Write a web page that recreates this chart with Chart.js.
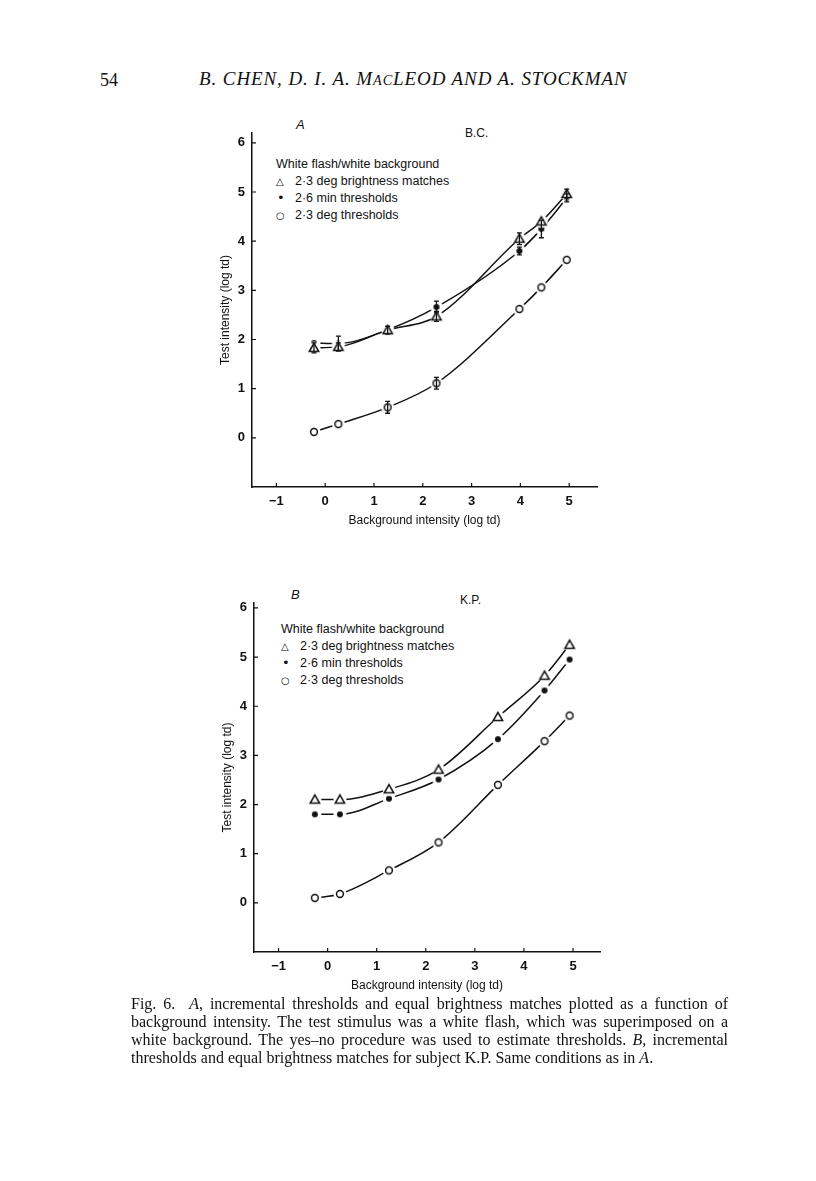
<!DOCTYPE html>
<html>
<head>
<meta charset="utf-8">
<script src="https://cdn.jsdelivr.net/npm/chart.js@4.4.0/dist/chart.umd.min.js"></script>
<style>
body { margin: 0; background: #fff; }
#page { position: relative; width: 816px; height: 1181px; background: #fff; color: #111; overflow: hidden; }
.abs { position: absolute; white-space: nowrap; }
.serif { font-family: "Liberation Serif", "DejaVu Serif", serif; }
.sans { font-family: "Liberation Sans", Arial, sans-serif; }
.leg { font-size: 12.5px; line-height: 16.5px; }
.sym { display: inline-block; width: 19px; font-family: "DejaVu Sans", sans-serif; font-size: 10px; }
.dot { font-size: 13px; line-height: 10px; padding-left: 1px; width: 18px; }
.cap { font-size: 16px; line-height: 18px; width: 597px; }
.cap div { text-align: justify; text-align-last: justify; }
.cap div.last { text-align-last: left; }
.sc { font-size: 0.75em; }
</style>
</head>
<body>
<div id="page">
  <div class="abs serif" style="left:100px;top:70px;font-size:18px;line-height:20px;">54</div>
  <div class="abs serif" style="left:199px;top:69px;font-size:19px;line-height:20px;font-style:italic;letter-spacing:0.9px;">B. CHEN, D. I. A. M<span class="sc">AC</span>LEOD AND A. STOCKMAN</div>

  <div class="abs sans" style="left:296px;top:117px;font-size:13px;font-style:italic;">A</div>
  <div class="abs sans" style="left:465px;top:126px;font-size:12px;">B.C.</div>
  <div class="abs sans leg" style="left:276px;top:156px;">
    <div>White flash/white background</div>
    <div><span class="sym">&#9651;</span>2·3 deg brightness matches</div>
    <div><span class="sym dot">&#8226;</span>2·6 min thresholds</div>
    <div><span class="sym">&#9675;</span>2·3 deg thresholds</div>
  </div>
  <canvas id="chartA" class="abs" width="420" height="420" style="left:214px;top:115px;"></canvas>

  <div class="abs sans" style="left:291px;top:587px;font-size:13px;font-style:italic;">B</div>
  <div class="abs sans" style="left:460px;top:593px;font-size:12px;">K.P.</div>
  <div class="abs sans leg" style="left:281px;top:621px;">
    <div>White flash/white background</div>
    <div><span class="sym">&#9651;</span>2·3 deg brightness matches</div>
    <div><span class="sym dot">&#8226;</span>2·6 min thresholds</div>
    <div><span class="sym">&#9675;</span>2·3 deg thresholds</div>
  </div>
  <canvas id="chartB" class="abs" width="420" height="415" style="left:216px;top:585px;"></canvas>

  <div class="abs serif cap" style="left:131px;top:995px;white-space:normal;">
    <div>Fig. 6.&nbsp; <i>A</i>, incremental thresholds and equal brightness matches plotted as a function of</div>
    <div>background intensity. The test stimulus was a white flash, which was superimposed on a</div>
    <div>white background. The yes–no procedure was used to estimate thresholds. <i>B</i>, incremental</div>
    <div class="last">thresholds and equal brightness matches for subject K.P. Same conditions as in <i>A</i>.</div>
  </div>
</div>
<script>
// panel A (subject B.C.)
const xA = [-0.23, 0.27, 1.28, 2.28, 3.98, 4.43, 4.95];
const brightA = [1.83, 1.85, 2.19, 2.47, 4.05, 4.40, 4.96];
const minA = [1.93, 1.92, 2.20, 2.66, 3.80, 4.25, 4.88];
const degA = [0.12, 0.28, 0.62, 1.11, 2.62, 3.06, 3.62];
const brightErrA = [0.1, 0.08, 0.08, 0.1, 0.12, 0, 0.1];
const minErrA = [0, 0.15, 0, 0.12, 0.08, 0.18, 0.08];
const degErrA = [0, 0, 0.12, 0.12, 0, 0, 0];

// panel B (subject K.P.)
const xB = [-0.26, 0.25, 1.25, 2.26, 3.47, 4.42, 4.93];
const brightB = [2.10, 2.10, 2.31, 2.71, 3.78, 4.62, 5.25];
const minB = [1.80, 1.80, 2.12, 2.51, 3.33, 4.32, 4.95];
const degB = [0.10, 0.18, 0.66, 1.23, 2.40, 3.29, 3.81];

const xTicks = [-1, 0, 1, 2, 3, 4, 5];
const yTicks = [0, 1, 2, 3, 4, 5, 6];

const ink = '#111';
const fam = '"Liberation Sans", Arial, sans-serif';

// marker with a white halo so the curve breaks around it
function marker(kind) {
  const c = document.createElement('canvas');
  c.width = 16; c.height = 16;
  const g = c.getContext('2d');
  g.fillStyle = '#fff';
  g.beginPath(); g.arc(8, 8, 6.5, 0, Math.PI * 2); g.fill();
  g.strokeStyle = ink; g.lineWidth = 1.5;
  if (kind == 'tri') {
    g.beginPath(); g.moveTo(8, 3.3); g.lineTo(12.7, 11.6); g.lineTo(3.3, 11.6); g.closePath();
    g.stroke();
  } else if (kind == 'dot') {
    g.fillStyle = ink;
    g.beginPath(); g.arc(8, 8, 3, 0, Math.PI * 2); g.fill();
  } else {
    g.beginPath(); g.arc(8, 8, 3.4, 0, Math.PI * 2); g.stroke();
  }
  return c;
}

function series(xs, ys, err, kind) {
  return {
    data: xs.map((x, i) => ({ x: x, y: ys[i] })),
    err: err,
    showLine: true,
    borderColor: ink,
    borderWidth: 1.5,
    cubicInterpolationMode: 'monotone',
    pointStyle: marker(kind),
    pointRadius: 8,
    pointHoverRadius: 8,
  };
}

const errorBars = {
  id: 'errorBars',
  afterDatasetsDraw(chart) {
    const ctx = chart.ctx, x = chart.scales.x, y = chart.scales.y;
    ctx.save();
    ctx.strokeStyle = ink; ctx.lineWidth = 1.3;
    chart.data.datasets.forEach(ds => {
      if (!ds.err) return;
      ds.data.forEach((p, i) => {
        const e = ds.err[i];
        if (!e) return;
        const px = x.getPixelForValue(p.x);
        const y1 = y.getPixelForValue(p.y + e), y2 = y.getPixelForValue(p.y - e);
        ctx.beginPath();
        ctx.moveTo(px, y1); ctx.lineTo(px, y2);
        ctx.moveTo(px - 2.5, y1); ctx.lineTo(px + 2.5, y1);
        ctx.moveTo(px - 2.5, y2); ctx.lineTo(px + 2.5, y2);
        ctx.stroke();
      });
    });
    ctx.restore();
  }
};

// tick marks pointing into the plot
const innerTicks = {
  id: 'innerTicks',
  afterDraw(chart) {
    const ctx = chart.ctx, a = chart.chartArea, x = chart.scales.x, y = chart.scales.y;
    ctx.save();
    ctx.strokeStyle = ink; ctx.lineWidth = 1.2;
    ctx.beginPath();
    x.ticks.forEach(t => { const px = x.getPixelForValue(t.value); ctx.moveTo(px, a.bottom); ctx.lineTo(px, a.bottom - 4); });
    y.ticks.forEach(t => { const py = y.getPixelForValue(t.value); ctx.moveTo(a.left, py); ctx.lineTo(a.left + 4, py); });
    ctx.stroke();
    ctx.restore();
  }
};

function fmt(v) { return v < 0 ? '\u2212' + (-v) : String(v); }

function makeChart(id, datasets, xmax, ymax, padRight) {
  return new Chart(document.getElementById(id), {
    type: 'scatter',
    data: { datasets: datasets },
    options: {
      responsive: false,
      animation: false,
      devicePixelRatio: 1,
      layout: { padding: { top: 18, right: padRight, left: 0, bottom: 0 } },
      plugins: { legend: { display: false }, tooltip: { enabled: false } },
      scales: {
        x: {
          type: 'linear', min: -1.5, max: xmax,
          afterBuildTicks: s => { s.ticks = xTicks.map(v => ({ value: v })); },
          afterFit: s => { s.height = 48; },
          grid: { display: false, drawTicks: false },
          border: { display: true, color: ink, width: 1.5 },
          ticks: { color: ink, font: { family: fam, size: 13, weight: 'bold' }, padding: 7, maxRotation: 0, autoSkip: false, callback: fmt },
          title: { display: true, text: 'Background intensity (log td)', color: ink, font: { family: fam, size: 12 }, padding: { top: 0, bottom: 7 } }
        },
        y: {
          type: 'linear', min: -1, max: ymax,
          afterBuildTicks: s => { s.ticks = yTicks.map(v => ({ value: v })); },
          afterFit: s => { s.width = 38; },
          grid: { display: false, drawTicks: false },
          border: { display: true, color: ink, width: 1.5 },
          ticks: { color: ink, font: { family: fam, size: 13, weight: 'bold' }, padding: 7, autoSkip: false, callback: fmt },
          title: { display: true, text: 'Test intensity (log td)', color: ink, font: { family: fam, size: 12 }, padding: { top: 4, bottom: 0 } }
        }
      }
    },
    plugins: [errorBars, innerTicks]
  });
}

makeChart('chartA', [
  series(xA, brightA, brightErrA, 'tri'),
  series(xA, minA, minErrA, 'dot'),
  series(xA, degA, degErrA, 'ring'),
], 5.57, 6.2, 37);

makeChart('chartB', [
  series(xB, brightB, null, 'tri'),
  series(xB, minB, null, 'dot'),
  series(xB, degB, null, 'ring'),
], 5.55, 6.1, 36);
</script>
</body>
</html>
